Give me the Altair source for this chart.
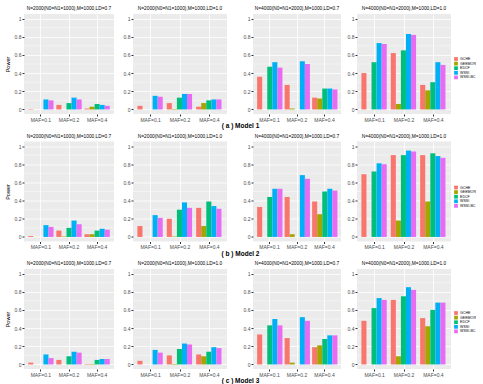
import altair as alt
import pandas as pd

methods = ["GCHE", "GEEMOR", "EDCF", "WSSI", "WSSI-BC"]
colors = ["#F8766D", "#A3A500", "#00BF7D", "#00B0F6", "#E76BF3"]
mafs = ["MAF=0.1", "MAF=0.2", "MAF=0.4"]
panel_titles = [
    "N=2000(N0=N1=1000),M=1000,LD=0.7",
    "N=2000(N0=N1=1000),M=1000,LD=1.0",
    "N=4000(N0=N1=2000),M=1000,LD=0.7",
    "N=4000(N0=N1=2000),M=1000,LD=1.0",
]
captions = ["( a )  Model 1", "( b )  Model 2", "( c )  Model 3"]
y_ticks = [0, 0.2, 0.4, 0.6, 0.8, 1]
y_minor = [0.1, 0.3, 0.5, 0.7, 0.9]

# values: for each MAF, the 5 methods in order
m1_p1 = [0.005, 0, 0, 0.11, 0.10, 0.05, 0, 0.07, 0.13, 0.11, 0.01, 0.03, 0.06, 0.05, 0.04]
m1_p2 = [0.04, 0, 0, 0.15, 0.14, 0.07, 0.005, 0.13, 0.17, 0.17, 0.03, 0.07, 0.10, 0.11, 0.11]
m1_p3 = [0.36, 0, 0.47, 0.52, 0.46, 0.27, 0.01, 0, 0.53, 0.50, 0.13, 0.12, 0.23, 0.23, 0.22]
m1_p4 = [0.40, 0, 0.52, 0.73, 0.72, 0.62, 0.06, 0.65, 0.83, 0.82, 0.27, 0.21, 0.30, 0.52, 0.49]

m2_p1 = [0.01, 0, 0, 0.13, 0.11, 0.07, 0.005, 0.10, 0.18, 0.14, 0.03, 0.03, 0.07, 0.09, 0.08]
m2_p2 = [0.12, 0, 0, 0.24, 0.21, 0.20, 0.005, 0.30, 0.38, 0.32, 0.32, 0.12, 0.39, 0.34, 0.31]
m2_p3 = [0.33, 0, 0.44, 0.53, 0.53, 0.44, 0.03, 0, 0.68, 0.64, 0.39, 0.25, 0.50, 0.53, 0.51]
m2_p4 = [0.69, 0, 0.72, 0.81, 0.80, 0.90, 0.18, 0.90, 0.95, 0.94, 0.90, 0.39, 0.92, 0.89, 0.87]

m3_p1 = [0.02, 0, 0, 0.11, 0.07, 0.05, 0, 0.09, 0.14, 0.13, 0.005, 0.005, 0.05, 0.06, 0.06]
m3_p2 = [0.04, 0, 0, 0.16, 0.13, 0.10, 0.005, 0.17, 0.23, 0.22, 0.11, 0.09, 0.14, 0.19, 0.18]
m3_p3 = [0.33, 0, 0.43, 0.50, 0.43, 0.29, 0.02, 0, 0.52, 0.48, 0.19, 0.21, 0.28, 0.32, 0.32]
m3_p4 = [0.48, 0, 0.62, 0.73, 0.71, 0.71, 0.09, 0.75, 0.85, 0.82, 0.51, 0.42, 0.60, 0.68, 0.68]

models = [
    [m1_p1, m1_p2, m1_p3, m1_p4],
    [m2_p1, m2_p2, m2_p3, m2_p4],
    [m3_p1, m3_p2, m3_p3, m3_p4],
]

FONT = "Liberation Sans"
widths = [90, 94, 88, 94]
HEIGHT = 100
yscale = alt.Scale(domain=[-0.05, 1.05], nice=False, zero=False)


def y_axis(col):
    return alt.Axis(title="Power" if col == 0 else None,
                    values=y_ticks, format="~g", domain=False,
                    tickSize=2, tickColor="#333333",
                    labelFontSize=5, labelFont=FONT, labelColor="#4D4D4D",
                    labelPadding=1, grid=True, gridColor="white",
                    gridWidth=0.8, titleFontSize=5.5, titleFont=FONT,
                    titleFontWeight="normal", titlePadding=4, titleColor="black")


def panel(vals, title, col, legend_y):
    df = pd.DataFrame({
        "maf": [m for m in mafs for _ in methods],
        "method": methods * len(mafs),
        "power": vals,
    })
    minor = pd.DataFrame({"v": y_minor})
    leg = alt.Legend(
        title=None, orient="none", legendX=430, legendY=legend_y,
        symbolType="square", symbolSize=14, symbolStrokeWidth=0,
        labelFontSize=3.6, labelFont=FONT, rowPadding=0.6,
        labelOffset=2, symbolOpacity=1,
    )
    grid = alt.Chart(minor).mark_rule(color="white", strokeWidth=0.4).encode(
        y=alt.Y("v:Q", scale=yscale, axis=y_axis(col))
    )
    bars = alt.Chart(df).mark_bar().encode(
        x=alt.X("maf:N", sort=mafs,
                scale=alt.Scale(paddingInner=0.1, paddingOuter=0.15),
                axis=alt.Axis(title=None, labelAngle=0, bandPosition=0.5,
                              domain=False, tickSize=2, tickColor="#333333",
                              labelFontSize=5, labelFont=FONT, labelColor="#4D4D4D",
                              labelPadding=1, grid=True, gridColor="white",
                              gridWidth=0.8)),
        xOffset=alt.XOffset("method:N", sort=methods,
                            scale=alt.Scale(paddingInner=0, paddingOuter=0)),
        y=alt.Y("power:Q", scale=yscale, axis=y_axis(col)),
        y2=alt.datum(0),
        color=alt.Color("method:N", sort=methods,
                        scale=alt.Scale(domain=methods, range=colors),
                        legend=leg),
    )
    return alt.layer(grid, bars).properties(
        width=widths[col], height=HEIGHT,
        title=alt.TitleParams(title, fontSize=4.8, font=FONT,
                              fontWeight="normal", anchor="middle", offset=3),
    )


legend_ys = [43, 44, 42]
rows = []
for mi, model in enumerate(models):
    p = [panel(model[c], panel_titles[c], c, legend_ys[mi]) for c in range(4)]
    left = alt.hconcat(p[0], p[1], spacing=8)
    right = alt.hconcat(p[2], p[3], spacing=5)
    row = alt.hconcat(left, right, spacing=15).properties(
        title=alt.TitleParams(captions[mi], orient="bottom", anchor="middle",
                              fontSize=6.5, font=FONT, fontWeight="bold",
                              offset=1, color="black")
    )
    rows.append(row)

chart = alt.vconcat(*rows, spacing=3.5).resolve_scale(color="independent").properties(
    padding={"left": 5, "top": 6, "right": 0, "bottom": 0},
    background="white",
).configure_view(fill="#EBEBEB", stroke=None)

chart.save("out.html", embed_options={"renderer": "svg", "actions": False})
